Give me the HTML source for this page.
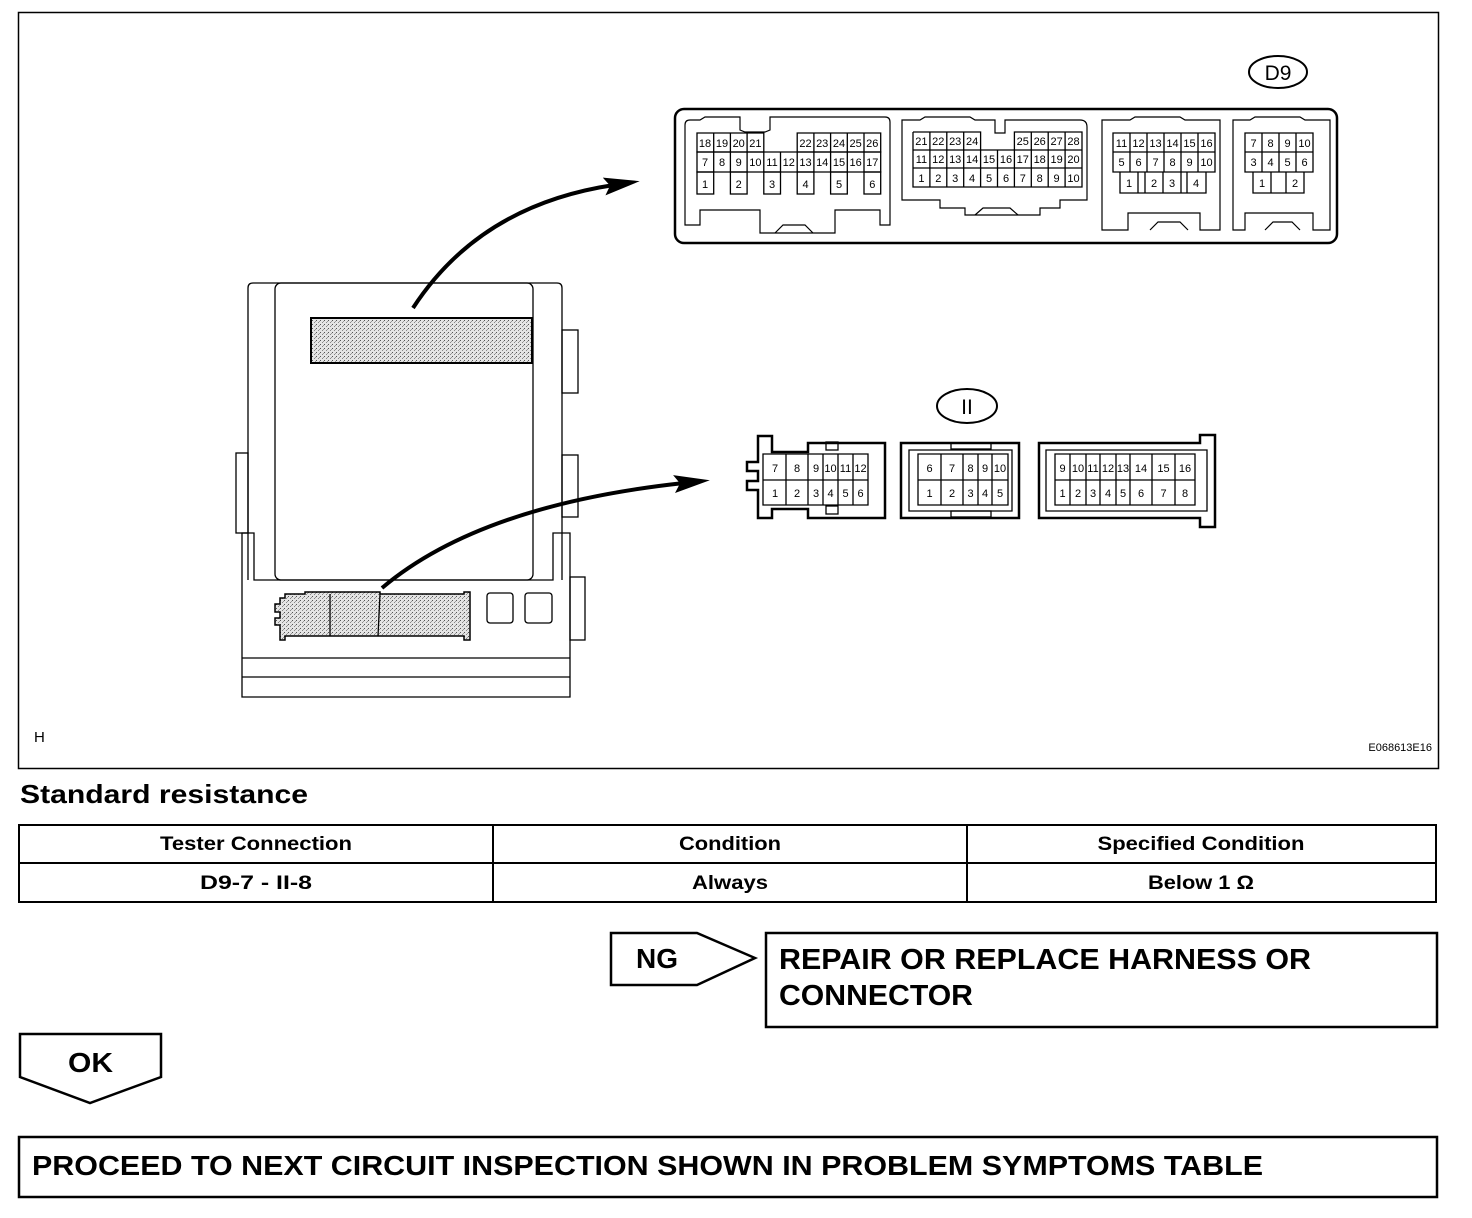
<!DOCTYPE html>
<html><head><meta charset="utf-8"><style>
html,body{margin:0;padding:0;background:#fff;}
svg{display:block;font-family:"Liberation Sans",sans-serif;}
.c{font-size:11px;text-anchor:middle;}
.b{font-weight:bold;}
</style></head><body>
<svg width="1472" height="1218" viewBox="0 0 1472 1218" xmlns="http://www.w3.org/2000/svg">
<defs>
<pattern id="dots" width="4" height="4" patternUnits="userSpaceOnUse">
<rect width="4" height="4" fill="#e4e4e4"/><rect x="0" y="0" width="1" height="1" fill="#555"/><rect x="2" y="2" width="1" height="1" fill="#888"/><rect x="3" y="1" width="1" height="1" fill="#999"/>
</pattern>
<marker id="ah" markerWidth="36" markerHeight="18" refX="10" refY="9" orient="auto" markerUnits="userSpaceOnUse"><path d="M0,0 L36,9 L0,18 L6,9 Z" fill="#000"/></marker>
</defs>
<rect x="18.5" y="12.5" width="1420" height="756" fill="none" stroke="#000" stroke-width="1.5"/>
<text x="34" y="742" font-size="15">H</text>
<text x="1432" y="751" font-size="11" text-anchor="end">E068613E16</text>

<!-- ECU -->
<g fill="none" stroke="#000" stroke-width="1.3">
<path d="M248,580 V288 Q248,283 253,283 H557 Q562,283 562,288 V580"/>
<rect x="275" y="283" width="258" height="297" rx="6"/>
<rect x="562" y="330" width="16" height="63"/>
<rect x="562" y="455" width="16" height="62"/>
<rect x="236" y="453" width="12" height="80"/>
<path d="M242,697 V533 H254 V580 H553 V533 H570 V697 Z"/>
<line x1="242" y1="658" x2="570" y2="658"/>
<line x1="242" y1="677" x2="570" y2="677"/>
<rect x="570" y="577" width="15" height="63"/>
<rect x="487" y="593" width="26" height="30" rx="3"/>
<rect x="525" y="593" width="27" height="30" rx="3"/>
</g>
<rect x="311" y="318" width="221" height="45" fill="url(#dots)" stroke="#000" stroke-width="2"/>
<path d="M280,598 H285 V594 H305 V592 H330 V592 H380 V594 H464 V592 H470 V640 H464 V636 H285 V640 H280 V625 H275 V618 H280 V612 H275 V604 H280 Z" fill="url(#dots)" stroke="#000" stroke-width="1.5"/>
<line x1="330" y1="594" x2="330" y2="636" stroke="#000" stroke-width="1.3"/>
<line x1="380" y1="594" x2="378" y2="636" stroke="#000" stroke-width="1.3"/>

<!-- arrows -->
<path d="M413,308 Q480,205 614,185" fill="none" stroke="#000" stroke-width="4" marker-end="url(#ah)"/>
<path d="M382,588 Q480,505 684,483" fill="none" stroke="#000" stroke-width="4" marker-end="url(#ah)"/>

<!-- D9 -->
<ellipse cx="1278" cy="72" rx="29" ry="16" fill="none" stroke="#000" stroke-width="2"/>
<text x="1278" y="80" font-size="21" text-anchor="middle">D9</text>
<rect x="675" y="109" width="662" height="134" rx="9" fill="none" stroke="#000" stroke-width="2.5"/>
<g fill="none" stroke="#000" stroke-width="1.2">
<path d="M685,125 Q685,120 690,120 H700 L705,117 H740 V130 L745,132 H765 L770,130 V117 H885 Q890,117 890,122 V225 H880 V210 H835 V233 H760 V210 H700 V225 H685 Z"/>
<path d="M902,120 H920 L925,117 H970 L975,120 H995 V133 H1005 V120 H1080 Q1087,120 1087,127 V200 H1060 V208 H1040 V215 H965 V208 H940 V200 H902 Z"/>
<path d="M1102,120 H1130 L1135,117 H1180 L1185,120 H1220 V230 H1200 V213 H1128 V230 H1102 Z"/>
<path d="M1233,120 H1250 L1255,117 H1300 L1305,120 H1330 V230 H1313 V213 H1245 V230 H1233 Z"/>
<path d="M775,233 L783,225 H805 L813,233"/>
<path d="M975,215 L983,208 H1010 L1018,215"/>
<path d="M1150,230 L1158,222 H1180 L1188,230"/>
<path d="M1265,230 L1273,222 H1292 L1300,230"/>
</g>
<g fill="none" stroke="#000" stroke-width="1.3">
<path d="M697,133 H763.8 V152 H697 Z M713.7,133V152 M730.4,133V152 M747.1,133V152"/>
<path d="M797.2,133 H880.7 V152 H797.2 Z M813.9,133V152 M830.6,133V152 M847.3,133V152 M864,133V152"/>
<path d="M697,152 H880.7 V172 H697 Z M713.7,152V172 M730.4,152V172 M747.1,152V172 M763.8,152V172 M780.5,152V172 M797.2,152V172 M813.9,152V172 M830.6,152V172 M847.3,152V172 M864,152V172"/>
<rect x="697" y="172" width="16.7" height="22"/><rect x="730.4" y="172" width="16.7" height="22"/><rect x="763.8" y="172" width="16.7" height="22"/><rect x="797.2" y="172" width="16.7" height="22"/><rect x="830.6" y="172" width="16.7" height="22"/><rect x="864" y="172" width="16.7" height="22"/>
<path d="M913,132 H980.6 V150 M913,132 V187 H1082 V132 H1014.4 V150 M913,150 H1082 M913,168 H1082"/>
<path d="M929.9,132V187 M946.8,132V187 M963.7,132V187 M980.6,150V187 M997.5,150V187 M1014.4,150V187 M1031.3,132V187 M1048.2,132V187 M1065.1,132V187"/>
<path d="M1113,133 H1215 V172 H1113 Z M1113,152 H1215 M1130,133V172 M1147,133V172 M1164,133V172 M1181,133V172 M1198,133V172"/>
<path d="M1120,172 V193 H1206 V172 M1138,172V193 M1145,172V193 M1163,172V193 M1181,172V193 M1187,172V193"/>
<path d="M1245,133 H1313 V172 H1245 Z M1245,152 H1313 M1262,133V172 M1279,133V172 M1296,133V172"/>
<path d="M1253,172 V193 H1304 V172 M1271,172V193 M1286,172V193"/>
</g>
<g class="c">
<text x="705" y="147">18</text><text x="722" y="147">19</text><text x="738.7" y="147">20</text><text x="755.4" y="147">21</text>
<text x="805.5" y="147">22</text><text x="822.2" y="147">23</text><text x="839" y="147">24</text><text x="855.6" y="147">25</text><text x="872.3" y="147">26</text>
<text x="705" y="166">7</text><text x="722" y="166">8</text><text x="738.7" y="166">9</text><text x="755.4" y="166">10</text><text x="772" y="166">11</text><text x="788.8" y="166">12</text><text x="805.5" y="166">13</text><text x="822.2" y="166">14</text><text x="839" y="166">15</text><text x="855.6" y="166">16</text><text x="872.3" y="166">17</text>
<text x="705" y="188">1</text><text x="738.7" y="188">2</text><text x="772" y="188">3</text><text x="805.5" y="188">4</text><text x="839" y="188">5</text><text x="872.3" y="188">6</text>
<text x="921.4" y="145">21</text><text x="938.3" y="145">22</text><text x="955.2" y="145">23</text><text x="972.1" y="145">24</text><text x="1022.8" y="145">25</text><text x="1039.7" y="145">26</text><text x="1056.6" y="145">27</text><text x="1073.5" y="145">28</text>
<text x="921.4" y="163">11</text><text x="938.3" y="163">12</text><text x="955.2" y="163">13</text><text x="972.1" y="163">14</text><text x="989" y="163">15</text><text x="1006" y="163">16</text><text x="1022.8" y="163">17</text><text x="1039.7" y="163">18</text><text x="1056.6" y="163">19</text><text x="1073.5" y="163">20</text>
<text x="921.4" y="182">1</text><text x="938.3" y="182">2</text><text x="955.2" y="182">3</text><text x="972.1" y="182">4</text><text x="989" y="182">5</text><text x="1006" y="182">6</text><text x="1022.8" y="182">7</text><text x="1039.7" y="182">8</text><text x="1056.6" y="182">9</text><text x="1073.5" y="182">10</text>
<text x="1121.5" y="147">11</text><text x="1138.5" y="147">12</text><text x="1155.5" y="147">13</text><text x="1172.5" y="147">14</text><text x="1189.5" y="147">15</text><text x="1206.5" y="147">16</text>
<text x="1121.5" y="166">5</text><text x="1138.5" y="166">6</text><text x="1155.5" y="166">7</text><text x="1172.5" y="166">8</text><text x="1189.5" y="166">9</text><text x="1206.5" y="166">10</text>
<text x="1129" y="187">1</text><text x="1154" y="187">2</text><text x="1172" y="187">3</text><text x="1196" y="187">4</text>
<text x="1253.5" y="147">7</text><text x="1270.5" y="147">8</text><text x="1287.5" y="147">9</text><text x="1304.5" y="147">10</text>
<text x="1253.5" y="166">3</text><text x="1270.5" y="166">4</text><text x="1287.5" y="166">5</text><text x="1304.5" y="166">6</text>
<text x="1262" y="187">1</text><text x="1295" y="187">2</text>
</g>

<!-- II -->
<ellipse cx="967" cy="406" rx="30" ry="17" fill="none" stroke="#000" stroke-width="2"/>
<text x="967" y="414" font-size="21" text-anchor="middle">II</text>
<g fill="none" stroke="#000" stroke-width="2.5">
<path d="M758,436 H772 V452 H808 V443 H885 V518 H808 V509 H772 V518 H758 V490 H747 V481 H758 V471 H747 V462 H758 Z"/>
<path d="M901,443 H1019 V518 H901 Z"/>
<path d="M1039,443 H1200 V435 H1215 V527 H1200 V518 H1039 Z"/>
</g>
<g fill="none" stroke="#000" stroke-width="1.3">
<path d="M909,450 H1012 V511 H909 Z"/>
<path d="M1046,450 H1207 V511 H1046 Z"/>
<rect x="826" y="442" width="12" height="8"/><rect x="826" y="506" width="12" height="8"/>
<rect x="951" y="443" width="40" height="6"/><rect x="951" y="511" width="40" height="6"/>
<path d="M763,454 H868 V505 H763 Z M763,480 H868 M786,454V505 M808,454V505 M823,454V505 M838,454V505 M853,454V505"/>
<path d="M918,454 H1008 V505 H918 Z M918,480 H1008 M941,454V505 M963,454V505 M978,454V505 M992,454V505"/>
<path d="M1055,454 H1195 V505 H1055 Z M1055,480 H1195 M1070,454V505 M1086,454V505 M1100,454V505 M1116,454V505 M1130,454V505 M1152,454V505 M1175,454V505"/>
</g>
<g class="c" font-size="12">
<text x="775" y="472">7</text><text x="797" y="472">8</text><text x="816" y="472">9</text><text x="830.5" y="472">10</text><text x="845.5" y="472">11</text><text x="860.5" y="472">12</text>
<text x="775" y="497">1</text><text x="797" y="497">2</text><text x="816" y="497">3</text><text x="830.5" y="497">4</text><text x="845.5" y="497">5</text><text x="860.5" y="497">6</text>
<text x="929.5" y="472">6</text><text x="952" y="472">7</text><text x="970.5" y="472">8</text><text x="985" y="472">9</text><text x="1000" y="472">10</text>
<text x="929.5" y="497">1</text><text x="952" y="497">2</text><text x="970.5" y="497">3</text><text x="985" y="497">4</text><text x="1000" y="497">5</text>
<text x="1062.5" y="472">9</text><text x="1078" y="472">10</text><text x="1093" y="472">11</text><text x="1108" y="472">12</text><text x="1123" y="472">13</text><text x="1141" y="472">14</text><text x="1163.5" y="472">15</text><text x="1185" y="472">16</text>
<text x="1062.5" y="497">1</text><text x="1078" y="497">2</text><text x="1093" y="497">3</text><text x="1108" y="497">4</text><text x="1123" y="497">5</text><text x="1141" y="497">6</text><text x="1163.5" y="497">7</text><text x="1185" y="497">8</text>
</g>

<!-- table -->
<text x="20" y="803" font-size="26" class="b" textLength="288" lengthAdjust="spacingAndGlyphs">Standard resistance</text>
<g fill="none" stroke="#000" stroke-width="2">
<rect x="19" y="825" width="1417" height="77"/>
<line x1="19" y1="863" x2="1436" y2="863"/>
<line x1="493" y1="825" x2="493" y2="902"/>
<line x1="967" y1="825" x2="967" y2="902"/>
</g>
<g font-size="19" class="b" text-anchor="middle">
<text x="256" y="850" textLength="192" lengthAdjust="spacingAndGlyphs">Tester Connection</text><text x="730" y="850" textLength="102" lengthAdjust="spacingAndGlyphs">Condition</text><text x="1201" y="850" textLength="207" lengthAdjust="spacingAndGlyphs">Specified Condition</text>
<text x="256" y="889" textLength="112" lengthAdjust="spacingAndGlyphs">D9-7 - II-8</text><text x="730" y="889" textLength="76" lengthAdjust="spacingAndGlyphs">Always</text><text x="1201" y="889" textLength="106" lengthAdjust="spacingAndGlyphs">Below 1 Ω</text>
</g>

<!-- NG -->
<path d="M611,933 H697 L755,958 L697,985 H611 Z" fill="none" stroke="#000" stroke-width="2.5"/>
<text x="636" y="968" font-size="28" class="b" textLength="42" lengthAdjust="spacingAndGlyphs">NG</text>
<rect x="766" y="933" width="671" height="94" fill="none" stroke="#000" stroke-width="2.5"/>
<text x="779" y="969" font-size="29" class="b" textLength="532" lengthAdjust="spacingAndGlyphs">REPAIR OR REPLACE HARNESS OR</text>
<text x="779" y="1005" font-size="29" class="b" textLength="194" lengthAdjust="spacingAndGlyphs">CONNECTOR</text>

<!-- OK -->
<path d="M20,1034 H161 V1077 L90,1103 L20,1077 Z" fill="none" stroke="#000" stroke-width="2.5"/>
<text x="68" y="1072" font-size="28" class="b" textLength="45" lengthAdjust="spacingAndGlyphs">OK</text>
<rect x="19" y="1137" width="1418" height="60" fill="none" stroke="#000" stroke-width="2.5"/>
<text x="32" y="1175" font-size="28" class="b" textLength="1231" lengthAdjust="spacingAndGlyphs">PROCEED TO NEXT CIRCUIT INSPECTION SHOWN IN PROBLEM SYMPTOMS TABLE</text>
</svg>
</body></html>
